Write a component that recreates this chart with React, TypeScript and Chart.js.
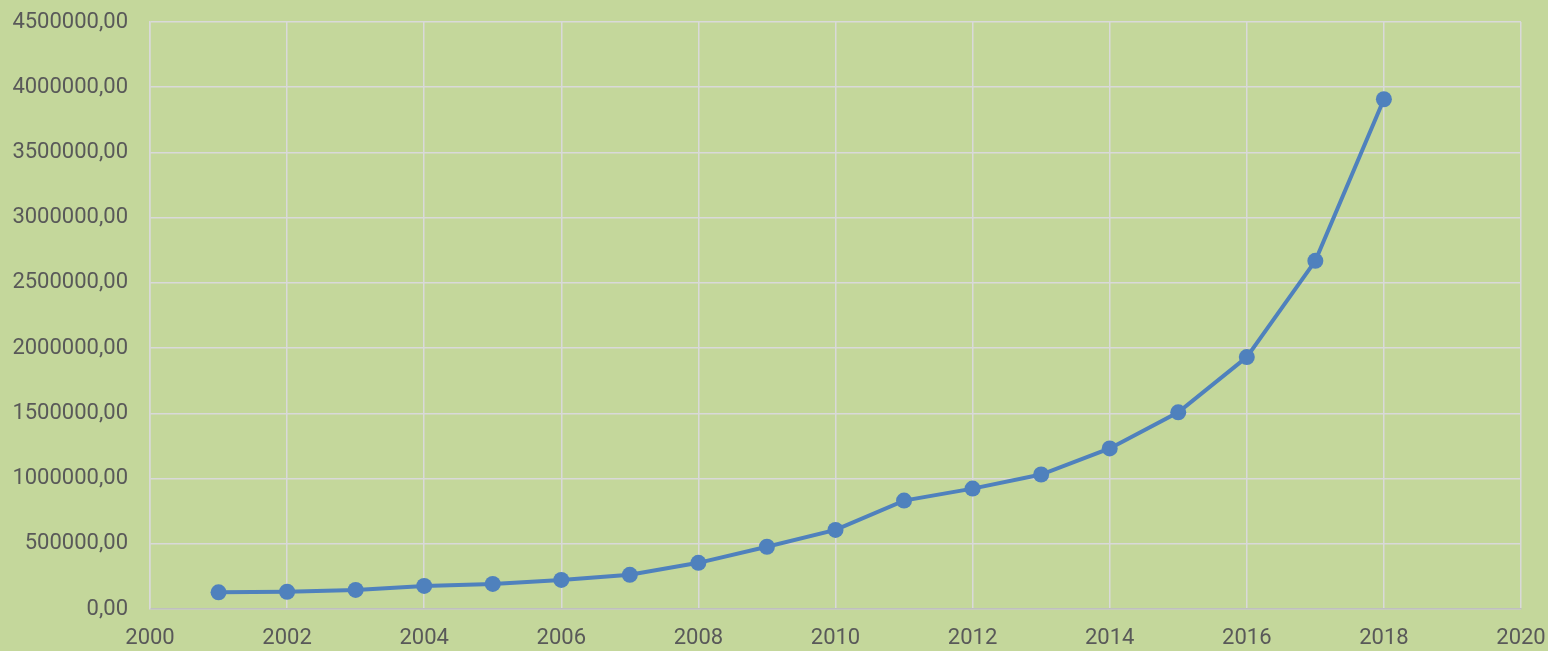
import React, { useEffect, useRef } from "react";
import { Chart, registerables } from "chart.js";

Chart.register(...registerables);

const years = [2001, 2002, 2003, 2004, 2005, 2006, 2007, 2008, 2009, 2010, 2011, 2012, 2013, 2014, 2015, 2016, 2017, 2018];
const values = [128000, 132000, 146000, 177000, 192000, 223000, 262000, 354000, 477000, 606000, 831000, 923000, 1031000, 1231000, 1508000, 1931000, 2669000, 3908000];

const xMin = 2000;
const xMax = 2020;
const xStep = 2;
const yMin = 0;
const yMax = 4500000;
const yStep = 500000;

const BG = "#C4D79B";
const LINE = "#4F81BD";
const TEXT = "#595959";
const GRID = "#D9D9D9";

export default function App() {
  const ref = useRef<HTMLCanvasElement | null>(null);

  useEffect(() => {
    if (!ref.current) return;
    const bgPlugin = {
      id: "bg",
      beforeDraw(chart: any) {
        const { ctx, width, height } = chart;
        ctx.save();
        ctx.fillStyle = BG;
        ctx.fillRect(0, 0, width, height);
        ctx.restore();
      },
    };
    const font = { family: "Roboto", size: 22 };
    const chart = new Chart(ref.current, {
      type: "line",
      data: {
        datasets: [
          {
            data: years.map((y, i) => ({ x: y, y: values[i] })),
            borderColor: LINE,
            backgroundColor: LINE,
            borderWidth: 4,
            pointRadius: 8,
            pointHoverRadius: 8,
            pointBackgroundColor: LINE,
            pointBorderColor: LINE,
            pointBorderWidth: 0,
            tension: 0,
          },
        ],
      },
      options: {
        animation: false,
        responsive: false,
        maintainAspectRatio: false,
        layout: { padding: { left: 0, right: 27, top: 22, bottom: 0 } },
        plugins: { legend: { display: false }, tooltip: { enabled: false } },
        scales: {
          x: {
            type: "linear",
            min: xMin,
            max: xMax,
            ticks: {
              stepSize: xStep,
              color: TEXT,
              font,
              padding: 16,
              maxRotation: 0,
              callback: (v: any) => String(v),
            },
            grid: { color: GRID, lineWidth: 1.5, drawTicks: false },
            border: { color: "#BFBFBF", width: 1.5 },
            afterFit: (s: any) => {
              s.height = 42;
              s.paddingLeft = 0;
              s.paddingRight = 0;
            },
          },
          y: {
            min: yMin,
            max: yMax,
            ticks: {
              stepSize: yStep,
              color: TEXT,
              font,
              padding: 22,
              callback: (v: any) => Number(v).toFixed(2).replace(".", ","),
            },
            grid: { color: GRID, lineWidth: 1.5, drawTicks: false },
            border: { color: GRID, width: 1.5 },
            afterFit: (s: any) => {
              s.width = 150;
              s.paddingTop = 0;
              s.paddingBottom = 0;
            },
          },
        },
      },
      plugins: [bgPlugin],
    });
    return () => chart.destroy();
  }, []);

  return (
    <div style={{ position: "absolute", left: 0, top: 0, width: 1548, height: 651 }}>
      <canvas ref={ref} width={1548} height={651} style={{ width: 1548, height: 651, display: "block" }} />
    </div>
  );
}
